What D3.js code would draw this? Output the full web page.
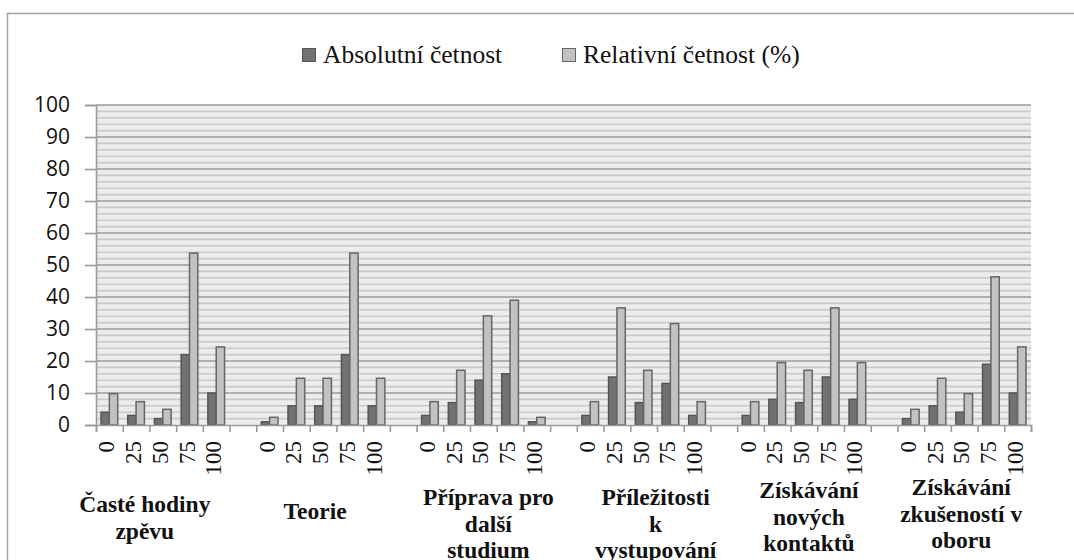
<!DOCTYPE html>
<meta charset="utf-8">
<head>
  <title>Četnost odpovědí</title>
  <style>
    body { margin: 0; background: #fff; }
    svg { display: block; }
  </style>
</head>
<body>
  <script src="https://d3js.org/d3.v7.min.js"></script>
  <div id="chart"></div>
  <script>
    // chart data
    var categories = ["Časté hodiny zpěvu", "Teorie", "Příprava pro další studium",
                      "Příležitosti k vystupování", "Získávání nových kontaktů",
                      "Získávání zkušeností v oboru"];
    var categoryLines = [["Časté hodiny", "zpěvu"], ["Teorie"], ["Příprava pro", "další", "studium"],
                         ["Příležitosti", "k", "vystupování"], ["Získávání", "nových", "kontaktů"],
                         ["Získávání", "zkušeností v", "oboru"]];
    var levels = ["0", "25", "50", "75", "100"];
    var seriesNames = ["Absolutní četnost", "Relativní četnost (%)"];
    var absolutni = [
      [4, 3, 2, 22, 10],
      [1, 6, 6, 22, 6],
      [3, 7, 14, 16, 1],
      [3, 15, 7, 13, 3],
      [3, 8, 7, 15, 8],
      [2, 6, 4, 19, 10]
    ];
    var relativni = [
      [9.8, 7.3, 4.9, 53.7, 24.4],
      [2.4, 14.6, 14.6, 53.7, 14.6],
      [7.3, 17.1, 34.1, 39.0, 2.4],
      [7.3, 36.6, 17.1, 31.7, 7.3],
      [7.3, 19.5, 17.1, 36.6, 19.5],
      [4.9, 14.6, 9.8, 46.3, 24.4]
    ];
    var yTicks = [0, 10, 20, 30, 40, 50, 60, 70, 80, 90, 100];

    var W = 1074, H = 560;
    var plot = {left: 96, right: 1031, top: 105, bottom: 425};
    var SERIF = "'Liberation Serif'";
    var SANS = "'Open Sans'";

    var svg = d3.select("#chart").append("svg")
      .attr("width", W).attr("height", H);

    // outer frame
    svg.append("rect")
      .attr("x", 7.5).attr("y", 13.5)
      .attr("width", 1200).attr("height", 700)
      .attr("fill", "none").attr("stroke", "#a3a3a3").attr("stroke-width", 1.5);

    // slots: 5 levels per category + empty slot between groups
    var slots = [];
    categories.forEach(function(c, gi) {
      levels.forEach(function(l, li) {
        slots.push({key: gi + "-" + li, group: gi, level: l, abs: absolutni[gi][li], rel: relativni[gi][li]});
      });
      if (gi < categories.length - 1) slots.push({key: "gap" + gi, gap: true});
    });

    var x0 = d3.scaleBand()
      .domain(slots.map(function(d) { return d.key; }))
      .range([plot.left, plot.right])
      .padding(0);
    var x1 = d3.scaleBand()
      .domain(["abs", "rel"])
      .range([0, x0.bandwidth()])
      .paddingInner(0).paddingOuter(0.6);
    var y = d3.scaleLinear().domain([0, 100]).range([plot.bottom, plot.top]);
    var edge = d3.scaleLinear().domain([0, slots.length]).range([plot.left, plot.right]);

    // plot background and grid
    svg.append("rect")
      .attr("x", plot.left).attr("y", plot.top)
      .attr("width", plot.right - plot.left).attr("height", plot.bottom - plot.top)
      .attr("fill", "#ececec");

    svg.append("g").selectAll("line")
      .data(d3.range(2, 100, 2).filter(function(v) { return v % 10 !== 0; }))
      .enter().append("line")
        .attr("x1", plot.left).attr("x2", plot.right)
        .attr("y1", function(d) { return y(d); }).attr("y2", function(d) { return y(d); })
        .attr("stroke", "#c9c9c9").attr("stroke-width", 1.6);

    svg.append("g").selectAll("line")
      .data(yTicks.slice(1))
      .enter().append("line")
        .attr("x1", plot.left).attr("x2", plot.right)
        .attr("y1", function(d) { return y(d); }).attr("y2", function(d) { return y(d); })
        .attr("stroke", "#9a9a9a").attr("stroke-width", 1.6);

    // y axis
    var yAxis = svg.append("g")
      .attr("transform", "translate(" + plot.left + ",0)")
      .call(d3.axisLeft(y).tickValues(yTicks).tickSize(11).tickPadding(15));
    yAxis.select(".domain").attr("stroke", "#9a9a9a").attr("stroke-width", 1.6);
    yAxis.selectAll(".tick line").attr("stroke", "#9a9a9a").attr("stroke-width", 1.6);
    yAxis.selectAll(".tick text")
      .attr("fill", "#111")
      .style("font-family", SANS)
      .style("font-size", "21px");

    // bars
    var g = svg.append("g").selectAll("g")
      .data(slots.filter(function(d) { return !d.gap; }))
      .enter().append("g")
        .attr("transform", function(d) { return "translate(" + x0(d.key) + ",0)"; });

    g.append("rect")
      .attr("x", x1("abs")).attr("width", x1.bandwidth())
      .attr("y", function(d) { return y(d.abs); })
      .attr("height", function(d) { return y(0) - y(d.abs); })
      .attr("fill", "#727272").attr("stroke", "#555").attr("stroke-width", 1.5);

    g.append("rect")
      .attr("x", x1("rel")).attr("width", x1.bandwidth())
      .attr("y", function(d) { return y(d.rel); })
      .attr("height", function(d) { return y(0) - y(d.rel); })
      .attr("fill", "#c2c2c2").attr("stroke", "#666").attr("stroke-width", 1.5);

    // x axis: boundary ticks
    var xAxis = svg.append("g")
      .attr("transform", "translate(0," + plot.bottom + ")")
      .call(d3.axisBottom(edge).tickValues(d3.range(slots.length + 1)).tickSize(7).tickFormat(""));
    xAxis.select(".domain").attr("stroke", "#9a9a9a").attr("stroke-width", 1.6);
    xAxis.selectAll(".tick line").attr("stroke", "#9a9a9a").attr("stroke-width", 1.6);

    // x axis: level labels, rotated
    var levelAxis = svg.append("g")
      .attr("transform", "translate(0," + plot.bottom + ")")
      .call(d3.axisBottom(x0).tickSize(0).tickFormat(function(k) {
        var s = slots.find(function(d) { return d.key === k; });
        return s.gap ? "" : s.level;
      }));
    levelAxis.select(".domain").remove();
    levelAxis.selectAll(".tick text")
      .attr("transform", "rotate(-90)")
      .attr("x", -16).attr("y", 0).attr("dy", "0.22em")
      .attr("text-anchor", "end")
      .attr("fill", "#111")
      .style("font-family", SERIF)
      .style("font-size", "23px");

    // group labels
    var nudge = [-18, -8, 5, 12, 5, -3];
    var firstLine = [504, 511, 497, 497, 490, 487];
    categoryLines.forEach(function(lines, gi) {
      var cx = (x0(gi + "-0") + x0(gi + "-4") + x0.bandwidth()) / 2 + nudge[gi];
      var t = svg.append("text")
        .attr("text-anchor", "middle")
        .attr("fill", "#111")
        .style("font-family", SERIF)
        .style("font-size", "23.5px")
        .style("font-weight", "bold");
      lines.forEach(function(line, li) {
        t.append("tspan")
          .attr("x", cx)
          .attr("y", firstLine[gi] + li * 26.5)
          .attr("dy", "0.35em")
          .text(line);
      });
    });

    // legend
    var legendX = [302, 562];
    var legendFill = ["#727272", "#c2c2c2"];
    var legendStroke = ["#555", "#666"];
    var legend = svg.append("g").selectAll("g")
      .data(seriesNames)
      .enter().append("g")
        .attr("transform", function(d, i) { return "translate(" + legendX[i] + ",55)"; });
    legend.append("rect")
      .attr("x", 0.5).attr("y", -6.5).attr("width", 13).attr("height", 13)
      .attr("fill", function(d, i) { return legendFill[i]; })
      .attr("stroke", function(d, i) { return legendStroke[i]; });
    legend.append("text")
      .attr("x", 21).attr("y", 0).attr("dy", "0.33em")
      .attr("fill", "#111")
      .style("font-family", SERIF)
      .style("font-size", "25.5px")
      .text(function(d) { return d; });
  </script>
</body>
